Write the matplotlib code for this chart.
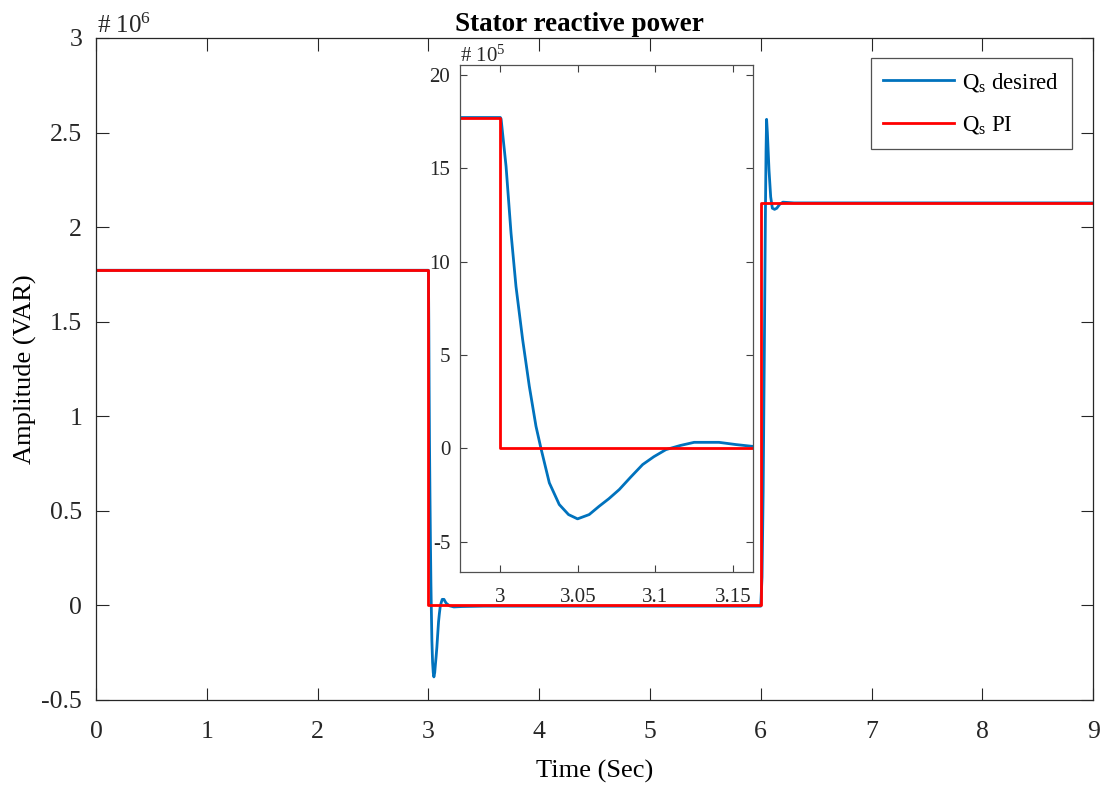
import matplotlib
matplotlib.use("Agg")
import matplotlib.pyplot as plt
from matplotlib.ticker import FuncFormatter

# ---------- data (values in units of 1e5 VAR) ----------

# PI output: piecewise constant levels, one level per step start
pi_t = [0.0, 3.0, 6.0, 9.0]
pi_v = [17.72, 0.0, 21.28, 21.28]

# desired reactive power
des_t = [0.0, 3.0, 3.0005, 3.0037, 3.0069, 3.0101, 3.0144, 3.0187, 3.0230,
         3.0262, 3.0316, 3.0380, 3.0440, 3.0498, 3.0573, 3.0638, 3.0700,
         3.0767, 3.0840, 3.0918, 3.0990, 3.1068, 3.1160, 3.1250, 3.1410,
         3.1520, 3.1620, 3.19, 3.23, 3.30,
         3.50, 6.0, 6.012, 6.022, 6.032, 6.042, 6.048, 6.053, 6.060, 6.075,
         6.090, 6.105, 6.125, 6.145, 6.170, 6.200, 6.300, 9.0]
des_v = [17.72, 17.72, 17.64, 15.10, 11.53, 8.67, 5.82, 3.32, 1.18,
         0.0, -1.85, -3.01, -3.55, -3.78, -3.55, -3.10, -2.70,
         -2.21, -1.55, -0.87, -0.45, -0.07, 0.15, 0.32, 0.32,
         0.20, 0.11, -0.02, -0.08, -0.06,
         -0.04, -0.04, 1.5, 6.0, 13.0, 20.5, 24.0, 25.7, 25.0, 23.0,
         21.6, 21.0, 20.94, 21.0, 21.2, 21.32, 21.28, 21.28]

main_xticks = [0, 1, 2, 3, 4, 5, 6, 7, 8, 9]
main_yticks = [-0.5, 0, 0.5, 1, 1.5, 2, 2.5, 3]
inset_xticks = [3.0, 3.05, 3.1, 3.15]
inset_yticks = [-5, 0, 5, 10, 15, 20]

BLUE = "#0072BD"
RED = "#FF0000"

plt.rcParams["font.family"] = ["Liberation Serif", "DejaVu Serif"]
plt.rcParams["mathtext.fontset"] = "custom"
plt.rcParams["mathtext.rm"] = "Liberation Serif"
plt.rcParams["mathtext.it"] = "Liberation Serif:italic"


def fmt(v, pos):
    return "%g" % v


fig = plt.figure(figsize=(11.05, 7.85), dpi=100)

# ---------- main axes ----------
ax = fig.add_axes([0.0869, 0.1083, 0.9023, 0.8433])
des_main = [v / 10.0 for v in des_v]
pi_main = [v / 10.0 for v in pi_v]
ax.plot(des_t, des_main, color=BLUE, lw=2.0, label=r"Q$_{\rm s}$ desired")
ax.plot(pi_t, pi_main, color=RED, lw=2.0, drawstyle="steps-post",
        label=r"Q$_{\rm s}$ PI")
ax.set_xlim(0, 9)
ax.set_ylim(-0.5, 3)
ax.set_xticks(main_xticks)
ax.set_yticks(main_yticks)
ax.xaxis.set_major_formatter(FuncFormatter(fmt))
ax.yaxis.set_major_formatter(FuncFormatter(fmt))
ax.tick_params(direction="in", length=9, width=0.8, top=True, right=True,
               labelsize=18.5, colors="#262626")
ax.tick_params(axis="y", pad=10)
ax.tick_params(axis="x", pad=15)
for s in ax.spines.values():
    s.set_linewidth(0.9)
    s.set_color("#262626")
ax.set_xlabel("Time (Sec)", fontsize=19, labelpad=12)
ax.set_ylabel("Amplitude (VAR)", fontsize=19, labelpad=3)
ax.set_title("Stator reactive power", fontsize=19.5, fontweight="bold",
             pad=5, x=0.485)

leg = ax.legend(loc="upper right", bbox_to_anchor=(0.970, 0.926),
                bbox_transform=fig.transFigure, fontsize=16.5, frameon=True,
                fancybox=False, edgecolor="#262626", handlelength=3.1,
                borderpad=0.55, labelspacing=0.9, handletextpad=0.35,
                borderaxespad=0.0)
leg.get_frame().set_linewidth(0.9)

fig.text(97 / 1105, 1 - 33 / 785, r"# 10$^{6}$", fontsize=18,
         va="baseline", ha="left", color="#262626")

# ---------- inset ----------
ins = fig.add_axes([0.4163, 0.2710, 0.2652, 0.6459])
ins.plot(des_t, des_v, color=BLUE, lw=2.0)
ins.plot(pi_t, pi_v, color=RED, lw=2.0, drawstyle="steps-post")
ins.set_xlim(2.974, 3.163)
ins.set_ylim(-6.64, 20.52)
ins.set_xticks(inset_xticks)
ins.set_yticks(inset_yticks)
ins.xaxis.set_major_formatter(FuncFormatter(fmt))
ins.yaxis.set_major_formatter(FuncFormatter(fmt))
ins.tick_params(direction="in", length=5, width=0.8, top=True, right=True,
                labelsize=15, colors="#404040", labelcolor="#262626")
ins.tick_params(axis="y", pad=7)
ins.tick_params(axis="x", pad=11)
for s in ins.spines.values():
    s.set_linewidth(0.9)
    s.set_color("#505050")

fig.text(460 / 1105, 1 - 62 / 785, r"# 10$^{5}$", fontsize=15,
         va="baseline", ha="left", color="#262626")

fig.savefig("out.png", dpi=100)
